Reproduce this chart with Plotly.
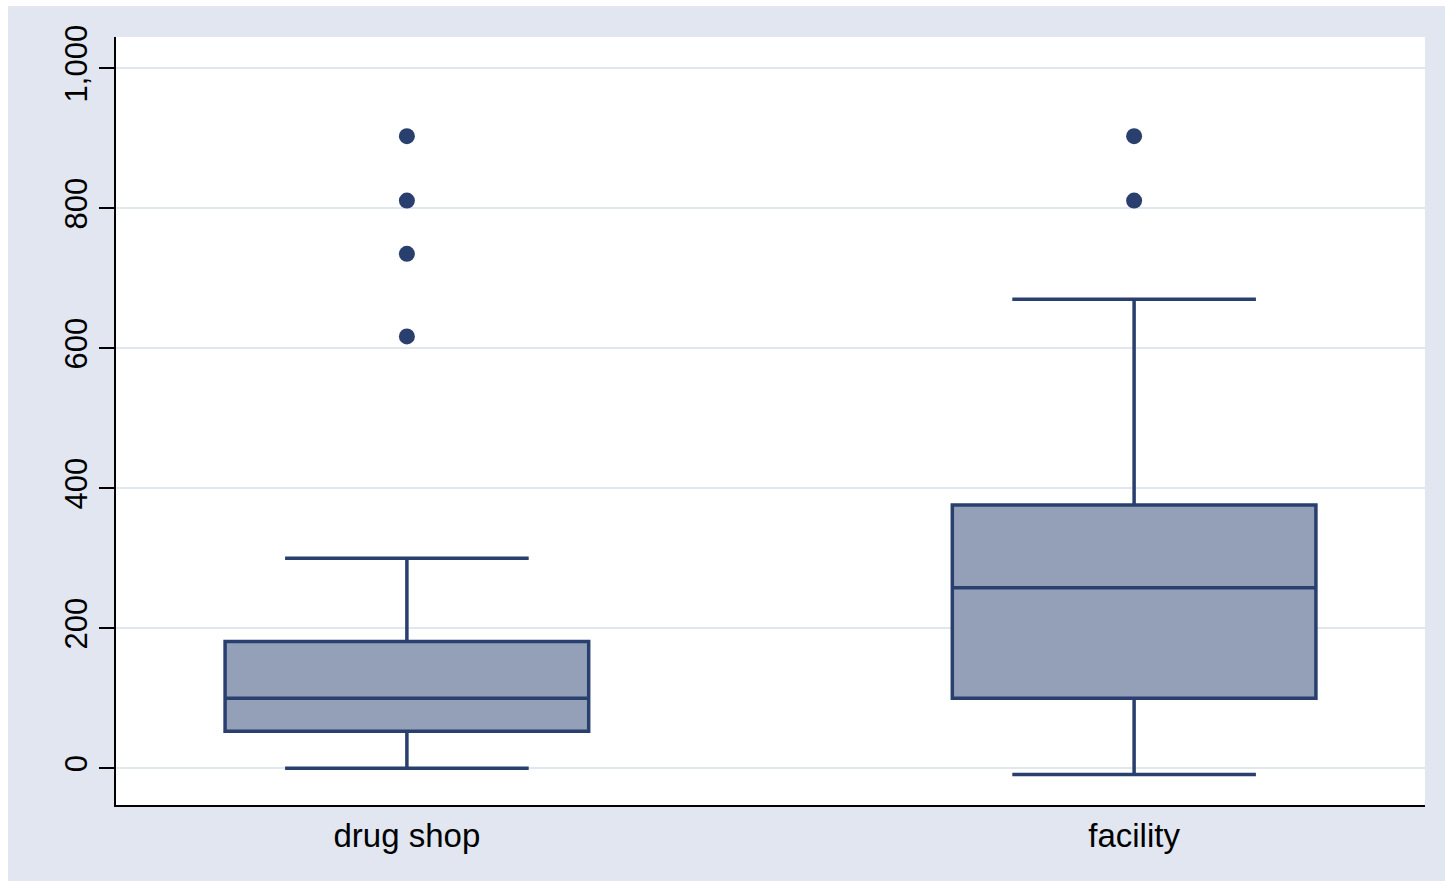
import plotly.graph_objects as go

# Box-plot summary per outlet type
categories = ["drug shop", "facility"]
q1_vals = [53, 100]
median_vals = [100, 258]
q3_vals = [181, 376]
lower_whisker = [0, -9]
upper_whisker = [300, 670]

# Points beyond the upper whisker
outlier_cats = ["drug shop", "drug shop", "drug shop", "drug shop", "facility", "facility"]
outlier_vals = [903, 811, 735, 617, 903, 811]

# Axis ticks
y_ticks = [0, 200, 400, 600, 800, 1000]
y_tick_labels = ["0", "200", "400", "600", "800", "1,000"]

NAVY = "#293f6e"
FILL = "#94a0b8"
REGION = "#e1e6f0"
GRID = "#e1e6f0"

W, H = 1445, 881
L, R, T, B = 116, 20, 37, 76
pw, ph = W - L - R, H - T - B

fig = go.Figure()

fig.add_trace(go.Box(
    x=categories,
    q1=q1_vals,
    median=median_vals,
    q3=q3_vals,
    lowerfence=lower_whisker,
    upperfence=upper_whisker,
    width=0.5,
    whiskerwidth=0.67,
    fillcolor=FILL,
    line=dict(color=NAVY, width=3.5),
    boxpoints=False,
    hoverinfo="skip",
    showlegend=False,
))

fig.add_trace(go.Scatter(
    x=outlier_cats,
    y=outlier_vals,
    mode="markers",
    marker=dict(color=NAVY, size=16, line=dict(width=0)),
    hoverinfo="skip",
    showlegend=False,
))

# White page strip along the top and left edges of the graph region
shapes = [
    dict(type="rect", xref="paper", yref="paper",
         x0=-L / pw - 0.01, x1=(8 - L) / pw, y0=-B / ph - 0.01, y1=1 + T / ph + 0.01,
         fillcolor="white", line=dict(width=0), layer="below"),
    dict(type="rect", xref="paper", yref="paper",
         x0=-L / pw - 0.01, x1=1 + R / pw + 0.01, y0=1 + (T - 6) / ph, y1=1 + T / ph + 0.01,
         fillcolor="white", line=dict(width=0), layer="below"),
]

fig.update_layout(
    width=W,
    height=H,
    margin=dict(l=L, r=R, t=T, b=B, pad=0),
    paper_bgcolor=REGION,
    plot_bgcolor="white",
    font=dict(family="Liberation Sans, Arial, sans-serif", color="black", size=30),
    shapes=shapes,
    showlegend=False,
)

fig.update_xaxes(
    type="category",
    categoryorder="array",
    categoryarray=categories,
    range=[-0.4, 1.4],
    showline=True,
    linecolor="black",
    linewidth=2,
    ticks="",
    showgrid=False,
    zeroline=False,
    tickfont=dict(size=33),
)

fig.update_yaxes(
    range=[-52.4, 1044.7],
    tickvals=y_ticks,
    ticktext=y_tick_labels,
    tickangle=-90,
    ticks="outside",
    ticklen=15,
    tickwidth=2,
    tickcolor="black",
    showline=True,
    linecolor="black",
    linewidth=2,
    showgrid=True,
    gridcolor=GRID,
    gridwidth=2,
    zeroline=False,
    tickfont=dict(size=31),
)

fig.write_html("out.html")
